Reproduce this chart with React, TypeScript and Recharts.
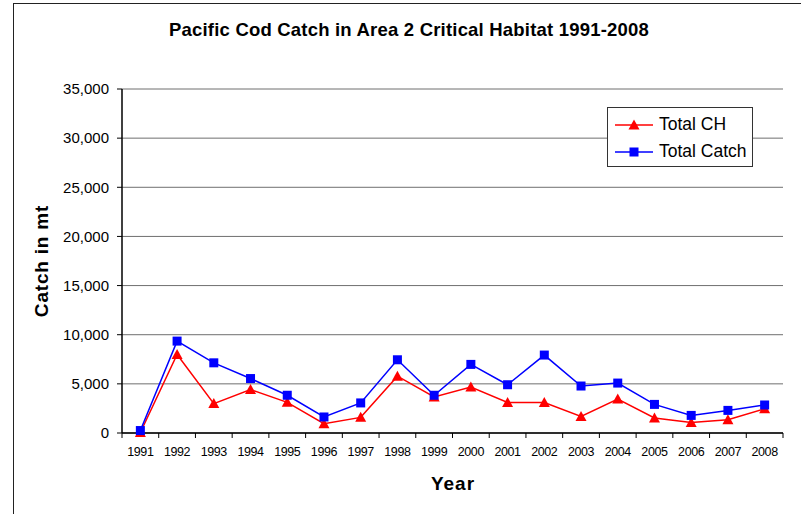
import React from 'react';
import {
  LineChart,
  Line,
  XAxis,
  YAxis,
  CartesianGrid,
  Legend,
  Label,
} from 'recharts';

const years = [
  '1991', '1992', '1993', '1994', '1995', '1996', '1997', '1998', '1999',
  '2000', '2001', '2002', '2003', '2004', '2005', '2006', '2007', '2008',
];
const totalCH = [
  50, 7990, 2990, 4420, 3120, 950, 1590, 5780, 3670,
  4680, 3110, 3110, 1690, 3460, 1530, 1080, 1350, 2470,
];
const totalCatch = [
  250, 9350, 7140, 5540, 3840, 1630, 3060, 7450, 3840,
  6980, 4910, 7930, 4780, 5080, 2910, 1790, 2300, 2850,
];
const yTicks = [0, 5000, 10000, 15000, 20000, 25000, 30000, 35000];

const data = years.map((year, i) => ({
  year,
  ch: totalCH[i],
  catch: totalCatch[i],
}));

const FONT = '"Liberation Sans", Arial, sans-serif';

const Triangle = (props: any) => {
  const { cx, cy, fill } = props;
  if (cx == null || cy == null) return null;
  return (
    <polygon
      points={`${cx},${cy - 5.5} ${cx - 5.5},${cy + 4.5} ${cx + 5.5},${cy + 4.5}`}
      fill={fill}
    />
  );
};

const Square = (props: any) => {
  const { cx, cy, fill } = props;
  if (cx == null || cy == null) return null;
  return <rect x={cx - 4.5} y={cy - 4.5} width={9} height={9} fill={fill} />;
};

const YearTick = (props: any) => {
  const { x, y, payload, index } = props;
  const half = payload && payload.offset ? payload.offset : 18.4;
  return (
    <g>
      <line x1={x - half} y1={y} x2={x - half} y2={y + 5} stroke="#000" />
      {index === years.length - 1 && (
        <line x1={x + half} y1={y} x2={x + half} y2={y + 5} stroke="#000" />
      )}
      <text
        x={x}
        y={y + 23}
        textAnchor="middle"
        fontSize={12.5}
        fontFamily={FONT}
        letterSpacing={-0.4}
        fill="#000"
      >
        {payload.value}
      </text>
    </g>
  );
};

const LegendBox = (props: any) => {
  const { payload } = props;
  return (
    <div
      style={{
        width: 146,
        height: 60,
        border: '1px solid #333',
        background: '#fff',
        fontFamily: FONT,
        fontSize: 17.5,
        boxSizing: 'border-box',
        paddingTop: 3,
      }}
    >
      {(payload || []).map((entry: any) => (
        <div
          key={entry.value}
          style={{ display: 'flex', alignItems: 'center', height: 27, paddingLeft: 6 }}
        >
          <svg width={40} height={14}>
            <line x1={1} y1={7} x2={39} y2={7} stroke={entry.color} strokeWidth={1.5} />
            {entry.value === 'Total CH' ? (
              <polygon points="20,1.5 14.5,11.5 25.5,11.5" fill={entry.color} />
            ) : (
              <rect x={15.5} y={2.5} width={9} height={9} fill={entry.color} />
            )}
          </svg>
          <span style={{ marginLeft: 5 }}>{entry.value}</span>
        </div>
      ))}
    </div>
  );
};

export default function App() {
  return (
    <div
      style={{
        position: 'absolute',
        left: 0,
        top: 0,
        width: 801,
        height: 514,
        background: '#fff',
        overflow: 'hidden',
      }}
    >
      <div
        style={{
          position: 'absolute',
          left: 13,
          top: 3,
          width: 800,
          height: 520,
          borderLeft: '1.5px solid #222',
          borderTop: '1.5px solid #222',
        }}
      />
      <div
        style={{
          position: 'absolute',
          left: 0,
          top: 19,
          width: 818,
          textAlign: 'center',
          fontFamily: FONT,
          fontWeight: 'bold',
          fontSize: 18.5,
          letterSpacing: 0.2,
          color: '#000',
        }}
      >
        Pacific Cod Catch in Area 2 Critical Habitat 1991-2008
      </div>
      <div style={{ position: 'absolute', left: 0, top: 0 }}>
        <LineChart
          width={801}
          height={514}
          data={data}
          margin={{ top: 89, right: 18, bottom: 51, left: 0 }}
        >
          <CartesianGrid vertical={false} stroke="#6f6f6f" strokeWidth={1} />
          <XAxis
            dataKey="year"
            scale="band"
            tickLine={false}
            tickSize={0}
            tickMargin={0}
            height={30}
            interval={0}
            axisLine={{ stroke: '#000', strokeWidth: 1.5 }}
            tick={<YearTick />}
          >
            <Label
              content={() => (
                <text
                  x={453}
                  y={490}
                  textAnchor="middle"
                  fontFamily={FONT}
                  fontWeight="bold"
                  fontSize={19}
                  letterSpacing={1}
                  fill="#000"
                >
                  Year
                </text>
              )}
            />
          </XAxis>
          <YAxis
            width={122}
            domain={[0, 35000]}
            ticks={yTicks}
            interval={0}
            tickSize={5}
            tickMargin={8}
            tickLine={{ stroke: '#000' }}
            axisLine={{ stroke: '#000', strokeWidth: 1.5 }}
            tick={{ fill: '#000', fontSize: 15, fontFamily: FONT }}
            tickFormatter={(v: number) => v.toLocaleString('en-US')}
          >
            <Label
              content={() => (
                <text
                  x={48}
                  y={261}
                  transform="rotate(-90 48 261)"
                  textAnchor="middle"
                  fontFamily={FONT}
                  fontWeight="bold"
                  fontSize={19}
                  letterSpacing={0.8}
                  fill="#000"
                >
                  Catch in mt
                </text>
              )}
            />
          </YAxis>
          <YAxis
            yAxisId="right"
            orientation="right"
            width={0}
            domain={[0, 35000]}
            tick={false}
            tickLine={false}
            axisLine={{ stroke: '#6f6f6f', strokeWidth: 1.5 }}
          />
          <Legend
            layout="vertical"
            align="center"
            verticalAlign="middle"
            content={<LegendBox />}
            wrapperStyle={{ left: 607, top: 107, width: 146, height: 60 }}
          />
          <Line
            name="Total CH"
            dataKey="ch"
            stroke="#ff0000"
            fill="#ff0000"
            strokeWidth={1.5}
            dot={<Triangle />}
            activeDot={false}
            isAnimationActive={false}
          />
          <Line
            name="Total Catch"
            dataKey="catch"
            stroke="#0000ff"
            fill="#0000ff"
            strokeWidth={1.5}
            dot={<Square />}
            activeDot={false}
            isAnimationActive={false}
          />
        </LineChart>
      </div>
    </div>
  );
}
